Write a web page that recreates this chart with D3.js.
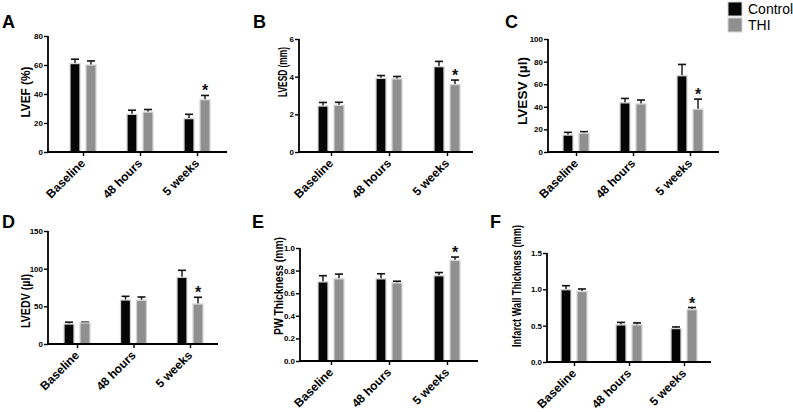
<!DOCTYPE html>
<html>
<head>
<meta charset="utf-8">
<script src="https://cdn.jsdelivr.net/npm/d3@7"></script>
<style>
  html, body { margin: 0; padding: 0; background: #fff; }
  svg { display: block; font-family: "Liberation Sans", Arial, sans-serif; }
</style>
</head>
<body>
<svg id="chart" width="793" height="412"></svg>
<script>
// ---------- DATA ----------
const categories = ["Baseline", "48 hours", "5 weeks"];
const seriesNames = ["Control", "THI"];

const lvefControl = [61, 26, 23];
const lvefControlSem = [3, 2.8, 3];
const lvefThi = [60, 27.5, 36];
const lvefThiSem = [2.8, 1.8, 3];
const lvefTicks = [0, 20, 40, 60, 80];

const lvesdControl = [2.44, 3.91, 4.53];
const lvesdControlSem = [0.19, 0.15, 0.28];
const lvesdThi = [2.48, 3.88, 3.58];
const lvesdThiSem = [0.16, 0.13, 0.24];
const lvesdTicks = [0, 2, 4, 6];

const lvesvControl = [15, 43.5, 67.5];
const lvesvControlSem = [2.4, 3.9, 10];
const lvesvThi = [16.5, 42.5, 37.8];
const lvesvThiSem = [1.5, 3.5, 9];
const lvesvTicks = [0, 20, 40, 60, 80, 100];

const lvedvControl = [26.5, 58.4, 88.5];
const lvedvControlSem = [2.5, 4.9, 9.3];
const lvedvThi = [27.9, 58, 53.1];
const lvedvThiSem = [1, 4.4, 8.9];
const lvedvTicks = [0, 50, 100, 150];

const pwControl = [0.70, 0.727, 0.754];
const pwControlSem = [0.055, 0.045, 0.029];
const pwThi = [0.727, 0.691, 0.89];
const pwThiSem = [0.042, 0.015, 0.03];
const pwTicks = [0, 0.2, 0.4, 0.6, 0.8, 1.0];

const iwtControl = [0.995, 0.51, 0.46];
const iwtControlSem = [0.055, 0.035, 0.022];
const iwtThi = [0.97, 0.51, 0.72];
const iwtThiSem = [0.035, 0.028, 0.03];
const iwtTicks = [0, 0.5, 1.0, 1.5];

const significant = [false, false, true]; // THI vs Control, per category

// ---------- LAYOUT ----------
const panels = [
  { letter: "A", title: "LVEF (%)", control: lvefControl, controlSem: lvefControlSem, thi: lvefThi, thiSem: lvefThiSem, ticks: lvefTicks, fmt: d3.format("d"),
    ax: 48, axEnd: 227, y0: 152, y1: 36, c0: 83, c1: 197, lx: 2, ly: 28, tx: 26, ty: 92, tl: 51 },
  { letter: "B", title: "LVESD (mm)", control: lvesdControl, controlSem: lvesdControlSem, thi: lvesdThi, thiSem: lvesdThiSem, ticks: lvesdTicks, fmt: d3.format("d"),
    ax: 299, axEnd: 473, y0: 152, y1: 39, c0: 331, c1: 447, lx: 253, ly: 28, tx: 283, ty: 72, tl: 50 },
  { letter: "C", title: "LVESV (\u00b5l)", control: lvesvControl, controlSem: lvesvControlSem, thi: lvesvThi, thiSem: lvesvThiSem, ticks: lvesvTicks, fmt: d3.format("d"),
    ax: 548, axEnd: 719, y0: 152, y1: 39, c0: 576, c1: 690, lx: 505, ly: 28, tx: 523, ty: 91, tl: 68 },
  { letter: "D", title: "LVEDV (\u00b5l)", control: lvedvControl, controlSem: lvedvControlSem, thi: lvedvThi, thiSem: lvedvThiSem, ticks: lvedvTicks, fmt: d3.format("d"),
    ax: 48, axEnd: 218, y0: 344, y1: 231, c0: 77, c1: 190, lx: 2, ly: 228, tx: 26, ty: 301, tl: 54 },
  { letter: "E", title: "PW Thickness (mm)", control: pwControl, controlSem: pwControlSem, thi: pwThi, thiSem: pwThiSem, ticks: pwTicks, fmt: d3.format(".1f"),
    ax: 300, axEnd: 478, y0: 361, y1: 248, c0: 331, c1: 447, lx: 252, ly: 228, tx: 279, ty: 286, tl: 98 },
  { letter: "F", title: "Infarct Wall Thickness (mm)", control: iwtControl, controlSem: iwtControlSem, thi: iwtThi, thiSem: iwtThiSem, ticks: iwtTicks, fmt: d3.format(".1f"),
    ax: 547, axEnd: 711, y0: 362, y1: 253, c0: 574, c1: 684, lx: 490, ly: 228, tx: 517, ty: 286, tl: 122 }
];

const colors = { Control: "#050505", THI: "#8f8f8f" };
const barW = 10, barGap = 6;

const svg = d3.select("#chart");

panels.forEach(p => {
  const g = svg.append("g");
  const yMax = p.ticks[p.ticks.length - 1];
  const y = d3.scaleLinear().domain([0, yMax]).range([p.y0, p.y1]);
  const x = d3.scalePoint().domain(categories).range([p.c0, p.c1]);
  const off = d3.scaleOrdinal().domain(seriesNames).range([-(barW + barGap) / 2, (barW + barGap) / 2]);

  const rows = [];
  categories.forEach((c, i) => {
    rows.push({ cat: c, s: "Control", v: p.control[i], e: p.controlSem[i], sig: false });
    rows.push({ cat: c, s: "THI", v: p.thi[i], e: p.thiSem[i], sig: significant[i] });
  });

  // error bars (drawn behind bars)
  const eb = g.selectAll(".eb").data(rows).enter().append("g");
  eb.append("line")
    .attr("x1", d => x(d.cat) + off(d.s)).attr("x2", d => x(d.cat) + off(d.s))
    .attr("y1", d => y(d.v)).attr("y2", d => y(d.v + d.e))
    .attr("stroke", "#111").attr("stroke-width", 1.4);
  eb.append("line")
    .attr("x1", d => x(d.cat) + off(d.s) - 4).attr("x2", d => x(d.cat) + off(d.s) + 4)
    .attr("y1", d => y(d.v + d.e)).attr("y2", d => y(d.v + d.e))
    .attr("stroke", "#111").attr("stroke-width", 1.6);

  // bars
  g.selectAll(".bar").data(rows).enter().append("rect")
    .attr("x", d => x(d.cat) + off(d.s) - barW / 2)
    .attr("width", barW)
    .attr("y", d => y(d.v))
    .attr("height", d => y(0) - y(d.v))
    .attr("fill", d => colors[d.s])
    .attr("stroke", "#d4d4d4")
    .attr("stroke-width", 1.3);

  // significance stars
  g.selectAll(".star").data(rows.filter(d => d.sig)).enter().append("text")
    .attr("x", d => x(d.cat) + off(d.s))
    .attr("y", d => y(d.v + d.e) + 1)
    .attr("text-anchor", "middle")
    .attr("font-size", 16).attr("font-weight", "bold")
    .attr("fill", "#111")
    .text("*");

  // y axis
  const yAxis = d3.axisLeft(y).tickValues(p.ticks).tickFormat(p.fmt).tickSize(4).tickPadding(1);
  const ya = g.append("g").attr("transform", `translate(${p.ax},0)`).call(yAxis);
  ya.select(".domain").attr("stroke", "#000").attr("stroke-width", 1.8).attr("d", `M0,${p.y1}V${p.y0 + 1}`);
  ya.selectAll(".tick line").attr("stroke", "#000").attr("stroke-width", 1.4);
  ya.selectAll(".tick text").attr("font-size", 8).attr("font-weight", "bold").attr("fill", "#000")
    .attr("font-family", "'Liberation Sans', Arial, sans-serif");

  // x axis
  const xAxis = d3.axisBottom(x).tickSize(4).tickFormat("");
  const xa = g.append("g").attr("transform", `translate(0,${p.y0})`).call(xAxis);
  xa.select(".domain").attr("stroke", "#000").attr("stroke-width", 1.8).attr("d", `M${p.ax - 1},0H${p.axEnd}`);
  xa.selectAll(".tick line").attr("stroke", "#000").attr("stroke-width", 1.4);

  // rotated category labels
  g.selectAll(".xl").data(categories).enter().append("text")
    .attr("transform", d => `translate(${x(d) + 3},${p.y0 + 12}) rotate(-45)`)
    .attr("text-anchor", "end")
    .attr("font-size", 12).attr("font-weight", "bold").attr("fill", "#000")
    .text(d => d);

  // y title
  g.append("text")
    .attr("transform", `translate(${p.tx},${p.ty}) rotate(-90)`)
    .attr("text-anchor", "middle")
    .attr("dy", "0.36em")
    .attr("font-size", 12).attr("font-weight", "bold").attr("fill", "#000")
    .attr("textLength", p.tl).attr("lengthAdjust", "spacingAndGlyphs")
    .text(p.title);

  // panel letter
  g.append("text")
    .attr("x", p.lx).attr("y", p.ly)
    .attr("font-size", 18).attr("font-weight", "bold").attr("fill", "#000")
    .text(p.letter);
});

// legend
const legend = svg.append("g");
seriesNames.forEach((s, i) => {
  legend.append("rect").attr("x", 728).attr("y", 2 + i * 16).attr("width", 14).attr("height", 14)
    .attr("fill", colors[s]).attr("stroke", "#d4d4d4").attr("stroke-width", 1);
  legend.append("text").attr("x", 748).attr("y", 14 + i * 16)
    .attr("font-size", 14).attr("fill", "#000").text(s);
});
</script>
</body>
</html>
